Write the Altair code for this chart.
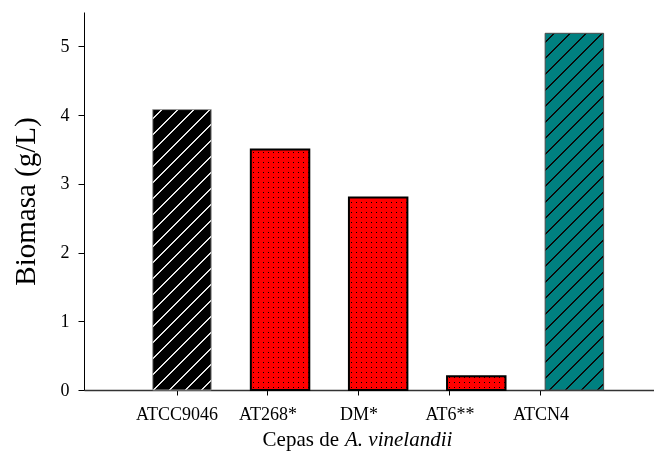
import altair as alt
import pandas as pd

# ---- data ----
categories = ["ATCC9046", "AT268*", "DM*", "AT6**", "ATCN4"]
biomasa = [4.08, 3.50, 2.80, 0.20, 5.19]

# ---- styles (not data) ----
bar_style = {
    "ATCC9046": ("diag", "#000000", "#e6e6e6", "#9a9a9a", 1),
    "AT268*": ("dots", "#ff0000", "#000000", "#000000", 2),
    "DM*": ("dots", "#ff0000", "#000000", "#000000", 2),
    "AT6**": ("dots", "#ff0000", "#000000", "#000000", 2),
    "ATCN4": ("diag", "#008080", "#0a0a0a", "#4a4a4a", 1),
}

W, H = 570, 378
YMAX = 5.5
FONT = "Liberation Serif"

df = pd.DataFrame({"cepa": categories, "biomasa": biomasa})

PI, PO, AL = 0.404, 0.607, 0.577
bar_scale = alt.Scale(type="band", domain=categories, paddingInner=PI, paddingOuter=PO, align=AL)
axis_scale = alt.Scale(type="band", domain=categories, paddingInner=0, paddingOuter=0.632, align=0.413)
y_scale = alt.Scale(domain=[0, YMAX], nice=False, zero=True)

step = W / (len(categories) - PI + 2 * PO)
bandwidth = step * (1 - PI)


def stripes(length, spacing, lw, phase, base, line):
    stops = [{"offset": 0, "color": base}]
    p = phase
    while p < length:
        a = max(0.0, (p - lw / 2) / length)
        b = min(1.0, (p + lw / 2) / length)
        stops += [
            {"offset": a, "color": base},
            {"offset": a, "color": line},
            {"offset": b, "color": line},
            {"offset": b, "color": base},
        ]
        p += spacing
    stops.append({"offset": 1, "color": base})
    return stops


def diag_gradient(w, h, base, line, spacing=16.0, lw=1.5):
    L = w + h
    d = w * w + h * h
    return {
        "gradient": "linear",
        "x1": 0, "y1": 0,
        "x2": w * L / d, "y2": h * L / d,
        "stops": stripes(L, spacing, lw, 9.0, base, line),
    }


def lin_gradient(length, vertical, spacing=5.0, lw=1.2):
    g = {"gradient": "linear", "stops": stripes(length, spacing, lw, 2.5, "#ffffff", "#000000")}
    if vertical:
        g.update({"x1": 0, "y1": 1, "x2": 0, "y2": 0})
    else:
        g.update({"x1": 0, "y1": 0, "x2": 1, "y2": 0})
    return g


def enc(base):
    return base.encode(
        x=alt.X("cepa:N", scale=bar_scale, axis=None, sort=categories),
        y=alt.Y("biomasa:Q", scale=y_scale, axis=None),
    )


layers = []

# axis layer (invisible marks carrying the axes)
axis_layer = alt.Chart(df).mark_bar(opacity=0).encode(
    x=alt.X("cepa:N", scale=axis_scale, sort=categories,
            axis=alt.Axis(title=None, labelFont=FONT, labelFontSize=18, labelColor="black",
                          labelAngle=0, labelPadding=10, tickSize=5, tickColor="black",
                          domainColor="#333333", domainWidth=1.5, labelFlush=False)),
    y=alt.Y("biomasa:Q", scale=y_scale,
            axis=alt.Axis(title="Biomasa (g/L)", values=[0, 1, 2, 3, 4, 5], format="d",
                          labelFont=FONT, labelFontSize=18, labelColor="black", labelPadding=9,
                          tickSize=6, tickColor="black", domainColor="black",
                          titleFont=FONT, titleFontSize=29, titleFontWeight="normal",
                          titleColor="black", titlePadding=20, grid=False)),
)
layers.append(axis_layer)

for cat, val in zip(categories, biomasa):
    kind, base, line, stroke, sw = bar_style[cat]
    h = val / YMAX * H
    sub = alt.Chart(df).transform_filter(alt.datum.cepa == cat)
    if kind == "diag":
        layers.append(enc(sub.mark_bar(fill=diag_gradient(bandwidth, h, base, line),
                                       stroke=stroke, strokeWidth=sw)))
    else:
        layers.append(enc(sub.mark_bar(fill=lin_gradient(bandwidth, False), strokeWidth=0)))
        layers.append(enc(sub.mark_bar(fill=lin_gradient(h, True), strokeWidth=0, blend="lighten")))
        layers.append(enc(sub.mark_bar(fill=base, stroke=stroke, strokeWidth=sw, blend="multiply")))

label_df = pd.DataFrame({"t": [0]})
t1 = alt.Chart(label_df).mark_text(text="Cepas de", font=FONT, fontSize=21, align="right",
                                   baseline="alphabetic", color="black").encode(
    x=alt.value(255), y=alt.value(H + 56))
t2 = alt.Chart(label_df).mark_text(text="A. vinelandii", font=FONT, fontSize=21, fontStyle="italic",
                                   align="left", baseline="alphabetic", color="black").encode(
    x=alt.value(261), y=alt.value(H + 56))
layers += [t1, t2]

chart = alt.layer(*layers).resolve_scale(x="independent", y="independent").properties(
    width=W, height=H,
    autosize=alt.AutoSizeParams(type="none"),
    padding={"left": 76, "top": 4, "right": 0, "bottom": 61},
    background="white",
).configure_view(stroke=None)

chart.save("out.html", embed_options={"renderer": "svg", "actions": False})
